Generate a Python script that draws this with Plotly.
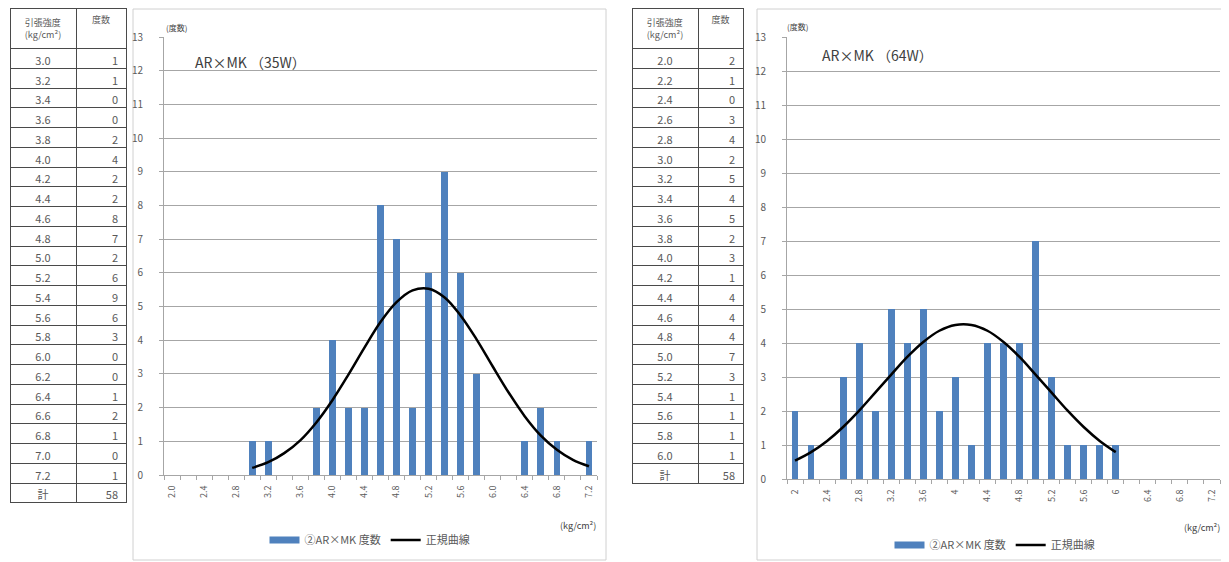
import plotly.graph_objects as go

# ---------------- data ----------------
categories = [2.0, 2.2, 2.4, 2.6, 2.8, 3.0, 3.2, 3.4, 3.6, 3.8, 4.0, 4.2, 4.4, 4.6,
              4.8, 5.0, 5.2, 5.4, 5.6, 5.8, 6.0, 6.2, 6.4, 6.6, 6.8, 7.0, 7.2]
tick_vals = [2.0, 2.4, 2.8, 3.2, 3.6, 4.0, 4.4, 4.8, 5.2, 5.6, 6.0, 6.4, 6.8, 7.2]
tick_text_35w = ["2.0", "2.4", "2.8", "3.2", "3.6", "4.0", "4.4", "4.8", "5.2",
                 "5.6", "6.0", "6.4", "6.8", "7.2"]
tick_text_64w = ["2", "2.4", "2.8", "3.2", "3.6", "4", "4.4", "4.8", "5.2",
                 "5.6", "6", "6.4", "6.8", "7.2"]

counts_35w = [0, 0, 0, 0, 0, 1, 1, 0, 0, 2, 4, 2, 2, 8, 7, 2, 6, 9, 6, 3, 0, 0, 1, 2, 1, 0, 1]
counts_64w = [2, 1, 0, 3, 4, 2, 5, 4, 5, 2, 3, 1, 4, 4, 4, 7, 3, 1, 1, 1, 1, 0, 0, 0, 0, 0, 0]

curve_x_35w = [3.0, 3.2, 3.4, 3.6, 3.8, 4.0, 4.2, 4.4, 4.6, 4.8, 5.0, 5.2, 5.4,
               5.6, 5.8, 6.0, 6.2, 6.4, 6.6, 6.8, 7.0, 7.2]
curve_y_35w = [0.21, 0.38, 0.65, 1.03, 1.56, 2.22, 2.98, 3.78, 4.54, 5.13, 5.48,
               5.53, 5.27, 4.73, 4.02, 3.22, 2.44, 1.74, 1.17, 0.75, 0.45, 0.26]
curve_x_64w = [2.0, 2.2, 2.4, 2.6, 2.8, 3.0, 3.2, 3.4, 3.6, 3.8, 4.0, 4.2, 4.4,
               4.6, 4.8, 5.0, 5.2, 5.4, 5.6, 5.8, 6.0]
curve_y_64w = [0.54, 0.79, 1.12, 1.53, 2.01, 2.54, 3.07, 3.59, 4.03, 4.36, 4.53,
               4.53, 4.36, 4.03, 3.59, 3.07, 2.54, 2.01, 1.53, 1.12, 0.79]

table_strength_35w = ["3.0", "3.2", "3.4", "3.6", "3.8", "4.0", "4.2", "4.4", "4.6",
                      "4.8", "5.0", "5.2", "5.4", "5.6", "5.8", "6.0", "6.2", "6.4",
                      "6.6", "6.8", "7.0", "7.2", "計"]
table_count_35w = ["1", "1", "0", "0", "2", "4", "2", "2", "8", "7", "2", "6", "9",
                   "6", "3", "0", "0", "1", "2", "1", "0", "1", "58"]
table_strength_64w = ["2.0", "2.2", "2.4", "2.6", "2.8", "3.0", "3.2", "3.4", "3.6",
                      "3.8", "4.0", "4.2", "4.4", "4.6", "4.8", "5.0", "5.2", "5.4",
                      "5.6", "5.8", "6.0", "計"]
table_count_64w = ["2", "1", "0", "3", "4", "2", "5", "4", "5", "2", "3", "1", "4",
                   "4", "4", "7", "3", "1", "1", "1", "1", "58"]

header_strength = "引張強度<br>(kg/cm²)"
header_count = "度数"
series_name = "②AR×MK 度数"
curve_name = "正規曲線"
titles = ["AR×MK （35W）", "AR×MK （64W）"]

# ---------------- style ----------------
# the page body has an 8px default margin: the figure sits at (8, 8)
OFF = 8
W, H = 1229 - OFF, 562 - OFF
FONT = "Noto Sans CJK JP, Noto Sans, sans-serif"
BAR_COLOR = "#4F81BD"
GRID = "#A6A6A6"
TXT = "#595959"


def px_x(p):
    return (p - OFF) / W


def px_y(p):
    return 1 - (p - OFF) / H


fig = go.Figure()


def add_table(strength, count, x0, x1, y0, y1, colw):
    fig.add_trace(go.Table(
        domain=dict(x=[px_x(x0), px_x(x1)], y=[px_y(y1), px_y(y0)]),
        columnwidth=colw,
        header=dict(values=[header_strength, header_count],
                    align=["center", "center"], height=39,
                    line=dict(color="#4a4a4a", width=1),
                    fill=dict(color="white"),
                    font=dict(family=FONT, size=9, color=TXT)),
        cells=dict(values=[strength, count],
                   align=["center", "right"], height=19.75,
                   line=dict(color="#4a4a4a", width=1),
                   fill=dict(color="white"),
                   font=dict(family=FONT, size=11, color=TXT)),
    ))


add_table(table_strength_35w, table_count_35w, 10, 126, 8.0, 520, [66, 50])
add_table(table_strength_64w, table_count_64w, 632, 743, 8.0, 505, [66, 45])

boundaries = [c - 0.1 for c in categories] + [categories[-1] + 0.1]

charts = [
    dict(counts=counts_35w, cx=curve_x_35w, cy=curve_y_35w, ticktext=tick_text_35w,
         xd=(164, 597), yd=(475, 37), legend="legend", xa="x", ya="y"),
    dict(counts=counts_64w, cx=curve_x_64w, cy=curve_y_64w, ticktext=tick_text_64w,
         xd=(787, 1220), yd=(479, 37), legend="legend2", xa="x2", ya="y2"),
]

for i, c in enumerate(charts):
    fig.add_trace(go.Bar(x=categories, y=c["counts"], width=0.085,
                         marker=dict(color=BAR_COLOR, line=dict(width=0)),
                         name=series_name, xaxis=c["xa"], yaxis=c["ya"],
                         showlegend=False))
    # legend entry drawn as a wide flat swatch like the original
    fig.add_trace(go.Scatter(x=[None], y=[None], mode="lines",
                             line=dict(color=BAR_COLOR, width=7),
                             name=series_name, xaxis=c["xa"], yaxis=c["ya"],
                             legend=c["legend"]))
    fig.add_trace(go.Scatter(x=c["cx"], y=c["cy"], mode="lines",
                             line=dict(color="black", width=2.5, shape="spline",
                                       smoothing=1.0),
                             name=curve_name, xaxis=c["xa"], yaxis=c["ya"],
                             legend=c["legend"]))
    suffix = "" if i == 0 else "2"
    fig.layout["xaxis" + suffix] = dict(
        domain=[px_x(c["xd"][0]), px_x(c["xd"][1])],
        anchor="y" + suffix, range=[1.9, 7.3], automargin=False,
        tickvals=tick_vals, ticktext=c["ticktext"], tickangle=-90,
        ticks="", showgrid=False, zeroline=False,
        showline=True, linecolor=GRID, linewidth=1,
        ticklabelstandoff=6,
        tickfont=dict(family=FONT, size=9, color=TXT),
        minor=dict(tickvals=boundaries, ticks="outside", ticklen=4,
                   tickcolor=GRID, showgrid=False),
    )
    fig.layout["yaxis" + suffix] = dict(
        domain=[px_y(c["yd"][0]), px_y(c["yd"][1])],
        anchor="x" + suffix, range=[0, 13], dtick=1, automargin=False,
        showgrid=True, gridcolor=GRID, gridwidth=1, zeroline=False,
        showline=True, linecolor=GRID, linewidth=1,
        ticks="outside", ticklen=4, tickcolor=GRID,
        ticklabelstandoff=14,
        tickfont=dict(family=FONT, size=10, color=TXT),
    )

# frames
for x0, x1 in [(133, 606), (757, 1227)]:
    fig.add_shape(type="rect", xref="paper", yref="paper",
                  x0=px_x(x0), x1=px_x(x1), y0=px_y(560), y1=px_y(9),
                  line=dict(color="#D0D0D0", width=1), layer="below")

ann = [
    ("(度数)", 164, 27, 8, "left"),
    ("(度数)", 785, 26, 8, "left"),
    (titles[0], 193, 62, 14, "left"),
    (titles[1], 820, 55, 14, "left"),
    ("(kg/cm²)", 598, 525, 9, "right"),
    ("(kg/cm²)", 1222, 527, 9, "right"),
]
for text, x, y, size, anchor in ann:
    fig.add_annotation(text=text, xref="paper", yref="paper", x=px_x(x), y=px_y(y),
                       xanchor=anchor, yanchor="middle", showarrow=False,
                       font=dict(family=FONT, size=size, color="#404040"))

legend_common = dict(orientation="h", xanchor="center", yanchor="middle",
                     font=dict(family=FONT, size=11, color=TXT),
                     bgcolor="rgba(0,0,0,0)", itemwidth=30, tracegroupgap=0)
fig.update_layout(
    width=W, height=H, margin=dict(l=0, r=0, t=0, b=0, autoexpand=False),
    paper_bgcolor="white", plot_bgcolor="white",
    bargap=0,
    legend=dict(x=px_x(370), y=px_y(540), **legend_common),
    legend2=dict(x=px_x(995), y=px_y(545), **legend_common),
    font=dict(family=FONT),
)

fig.write_html("out.html")
